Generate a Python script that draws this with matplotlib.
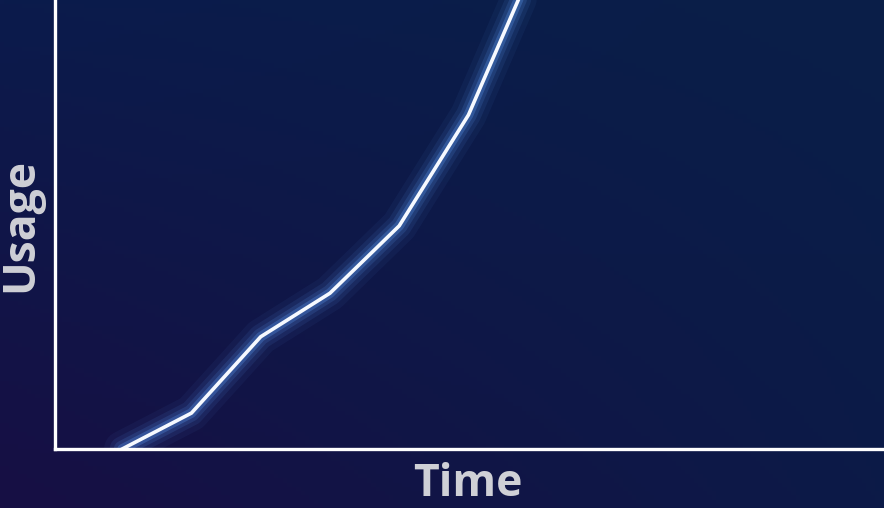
import matplotlib.pyplot as plt
import numpy as np

# usage curve sampled at regular time steps
time = [1, 2, 3, 4, 5, 6, 7]
usage = [0, 8, 25, 34.7, 49.7, 74.4, 110]

W, H = 884, 508
fig = plt.figure(figsize=(W / 100, H / 100), dpi=100)

# background gradient: navy, shading to purple in the lower left
bg = fig.add_axes([0, 0, 1, 1])
tl = np.array([0x0b, 0x1b, 0x4c]) / 255
tr = np.array([0x0a, 0x1f, 0x48]) / 255
bl = np.array([0x17, 0x0f, 0x44]) / 255
br = np.array([0x0c, 0x1a, 0x48]) / 255
u = np.linspace(0, 1, 200)[None, :, None]
v = np.linspace(0, 1, 120)[:, None, None]
img = (1 - v) * ((1 - u) * tl + u * tr) + v * ((1 - u) * bl + u * br)
bg.imshow(img, aspect='auto', extent=[0, 1, 0, 1], origin='upper')
bg.set_axis_off()

ax = fig.add_axes([55 / W, 59 / H, 1 - 55 / W, 1 - 59 / H])
ax.patch.set_alpha(0)

# soft glow under the line
for lw, a in [(26, 0.06), (18, 0.10), (12, 0.16), (7, 0.30)]:
    ax.plot(time, usage, color='#5a96ee', lw=lw, alpha=a,
            solid_capstyle='round', solid_joinstyle='round')
ax.plot(time, usage, color='#f6f9ff', lw=2.6, solid_joinstyle='round')

ax.set_xlim(0.03, 12)
ax.set_ylim(0, 100)
for s in ['top', 'right']:
    ax.spines[s].set_visible(False)
for s in ['left', 'bottom']:
    ax.spines[s].set_color('white')
    ax.spines[s].set_linewidth(2.4)
ax.set_xticks([])
ax.set_yticks([])

fig.text(468 / W, 1 - 485 / H, 'Time', ha='center', va='center',
         fontsize=32, fontweight='bold', family=['Open Sans', 'DejaVu Sans'],
         color='#cfd0d6')
fig.text(21 / W, 1 - 225 / H, 'Usage', ha='center', va='center', rotation=90,
         fontsize=32, fontweight='bold', family=['Open Sans', 'DejaVu Sans'],
         color='#cfd0d6')

fig.savefig('out.png', dpi=100)
